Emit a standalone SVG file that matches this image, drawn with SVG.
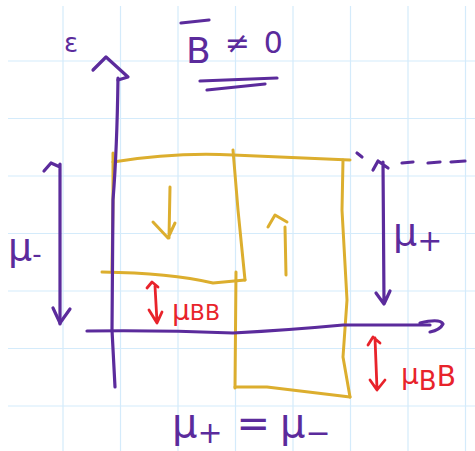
<svg xmlns="http://www.w3.org/2000/svg" width="475" height="451" viewBox="0 0 475 451">
<style>
.grid{stroke:#d4ebfb;stroke-width:1.2;fill:none}
.pu{stroke:#5b2b9c;stroke-width:3.2;fill:none;stroke-linecap:round;stroke-linejoin:round}
.go{stroke:#dcae2e;stroke-width:3;fill:none;stroke-linecap:round;stroke-linejoin:round}
.rd{stroke:#e8232b;stroke-width:2.8;fill:none;stroke-linecap:round;stroke-linejoin:round}
.tp{fill:#5b2b9c;font-family:"DejaVu Sans","Liberation Sans",sans-serif}
.tr{fill:#e8232b;font-family:"DejaVu Sans","Liberation Sans",sans-serif}
</style>
<rect width="475" height="451" fill="#ffffff"/>
<g id="grid">
<path class="grid" d="M63,6V451M120.5,6V451M178,6V451M235.5,6V451M293,6V451M350.5,6V451M408,6V451M465.5,6V451"/>
<path class="grid" d="M8,61H475M8,118.5H475M8,176H475M8,233.5H475M8,291H475M8,348.5H475M8,406H475"/>
</g>
<g id="title">
<path class="pu" d="M181,23 L209,20"/>
<text class="tp" x="186" y="63" font-size="36">B<tspan dx="14" font-size="30" dy="-10">≠</tspan><tspan dx="14" font-size="30">0</tspan></text>
<path class="pu" d="M200,81 L277,78 M207,90 L265,84"/>
</g>
<g id="bands">
<path class="go" d="M113,162 Q175,152 233,155 Q300,158 350,160"/>
<path class="go" d="M113,153 L113,200 L112,272"/>
<path class="go" d="M102,272 Q170,273 213,283 L245,280"/>
<path class="go" d="M233,150 L238,210 L245,280"/>
<path class="go" d="M236,272 L235,388"/>
<path class="go" d="M343,160 L342,210 L347,300 L343,357 L350,397"/>
<path class="go" d="M235,387 L267,387 L350,397"/>
<path class="go" d="M170,187 L169,238 M153,222 L168,238 L175,223"/>
<path class="go" d="M285,227 L286,275 M268,227 L275,215 L287,222"/>
</g>
<g id="axes">
<path class="pu" d="M118,78 Q117,150 113,200 L112,330 L115,387"/>
<path class="pu" d="M93,70 L106,57 L128,77 L118,80"/>
<path class="pu" d="M87,331 Q160,330 233,333 Q290,330 343,325 L430,325"/>
<path class="pu" d="M420,323 Q440,318 443,324 Q440,330 430,332"/>
</g>
<g id="labels">
<text class="tp" x="64" y="52" font-size="26">ε</text>
<text class="tp" x="8" y="260" font-size="38">μ<tspan font-size="26" dy="3">-</tspan></text>
<text class="tp" x="393" y="245" font-size="38">μ<tspan font-size="30" dy="6">+</tspan></text>
<text class="tp" x="172" y="437" font-size="40">μ<tspan font-size="30" dy="6">+</tspan><tspan dy="-6" dx="14">=</tspan><tspan dx="10">μ</tspan><tspan font-size="30" dy="6">−</tspan></text>
<text class="tr" x="172" y="320" font-size="28">μ<tspan font-size="22">BB</tspan></text>
<text class="tr" x="401" y="384" font-size="28">μ<tspan font-size="26" dy="6">B</tspan><tspan font-size="28" dy="-4">B</tspan></text>
</g>
<g id="connectors">
<path class="pu" d="M60,164 L60,324 M44,171 L51,163 L60,167"/>
<path class="pu" d="M53,308 L60,323 L70,309"/>
<path class="pu" d="M383,162 L384,303 M373,170 L378,161 L388,168 M376,293 L384,304 L390,291"/>
<path class="pu" d="M402,163 L413,162 M428,163 L440,162 M451,162 L465,161 M357,153 L362,157"/>
<path class="rd" d="M155,286 L157,322 M147,288 L152,282 L158,287 M149,310 L157,323 L162,312"/>
<path class="rd" d="M375,338 L377,389 M368,345 L373,337 L380,343 M370,380 L377,390 L385,380"/>
</g>
</svg>
